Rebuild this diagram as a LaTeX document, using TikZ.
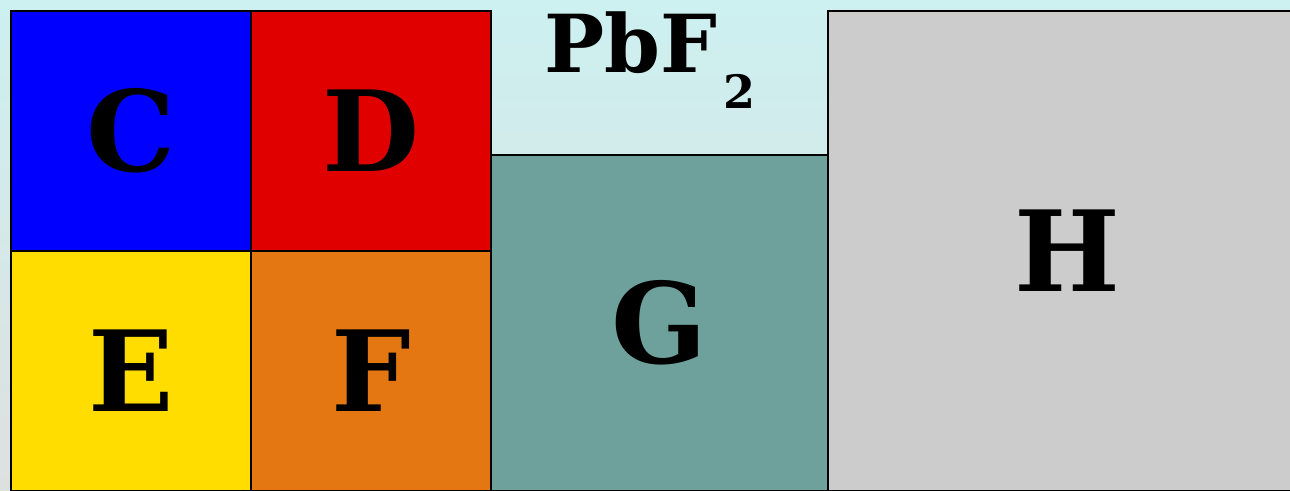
\documentclass[tikz,border=0pt]{standalone}
\usepackage{fontspec}
\setmainfont{DejaVu Serif}
\usetikzlibrary{positioning}
\definecolor{skytop}{HTML}{CDF0F0}
\definecolor{skybot}{HTML}{DEE0E0}
\definecolor{tileC}{HTML}{0000FF}
\definecolor{tileD}{HTML}{E00000}
\definecolor{tileE}{HTML}{FFDD00}
\definecolor{tileF}{HTML}{E47712}
\definecolor{tileG}{HTML}{6EA19B}
\definecolor{tileH}{HTML}{CCCCCC}
\tikzset{
  tile/.style={draw=black,line width=1pt,outer sep=0pt,inner sep=0pt,
    font=\fontsize{56}{56}\selectfont\bfseries},
  square/.style={tile,minimum width=120pt,minimum height=120pt}
}
\begin{document}
\begin{tikzpicture}[x=0.5pt,y=-0.5pt]
% frame and background
\useasboundingbox (0,0) rectangle (1290,491);
\clip (0,0) rectangle (1290,491);
\shade[top color=skytop,bottom color=skybot] (0,0) rectangle (1290,491);
% four small tiles
\node[square,fill=tileC] (C) at (131,131) {C};
\node[square,fill=tileD,right=0pt of C] (D) {D};
\node[square,fill=tileE,below=0pt of C] (E) {E};
\node[square,fill=tileF,below=0pt of D] (F) {F};
% tall tiles
\node[tile,fill=tileG,minimum width=168.5pt,minimum height=168pt,
  anchor=south west] (G) at (F.south east) {G};
\node[tile,fill=tileH,minimum width=239pt,minimum height=240pt,
  anchor=south west] (H) at (G.south east) {H};
% label over G
\node[font=\fontsize{40}{40}\selectfont\bfseries,inner sep=0pt,anchor=base] (pbf) at (650,73)
  {PbF\hspace{3pt}\raisebox{-18pt}{\fontsize{23}{23}\selectfont 2}};
\end{tikzpicture}
\end{document}
